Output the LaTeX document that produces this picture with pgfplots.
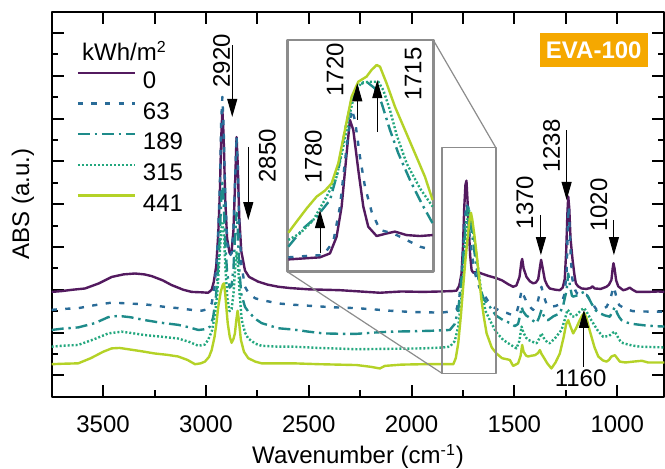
\documentclass[border=0pt]{standalone}
\usepackage{fontspec}
\setmainfont{Liberation Sans}
\usepackage{pgfplots}
\pgfplotsset{compat=1.18}
\usepackage{pgfplotstable}
\usetikzlibrary{arrows.meta}

\definecolor{cA}{HTML}{531A5F}
\definecolor{cB}{HTML}{2A6C98}
\definecolor{cC}{HTML}{1E8B8A}
\definecolor{cD}{HTML}{23A77E}
\definecolor{cE}{HTML}{B4D227}
\definecolor{evaorange}{HTML}{F5A800}
\definecolor{insgray}{HTML}{8C8C8C}

% main spectra: wavenumber, absorbance (offset, a.u.)
\pgfplotstableread{
wn a
3750 2.45
3700 2.47
3650 2.50
3588 2.53
3520 2.65
3458 2.80
3400 2.86
3345 2.88
3300 2.86
3264 2.82
3210 2.72
3167 2.61
3110 2.50
3069 2.45
3020 2.44
2989 2.43
2972 2.50
2962 2.68
2950 3.05
2940 3.80
2932 4.80
2926 6.00
2920 6.70
2914 6.10
2906 4.60
2897 3.70
2885 3.36
2875 3.40
2866 3.90
2858 5.00
2851 6.07
2845 5.40
2838 4.20
2828 3.40
2810 2.95
2790 2.80
2746 2.69
2700 2.62
2648 2.57
2591 2.54
2500 2.51
2420 2.50
2348 2.49
2250 2.46
2154 2.43
2050 2.46
1943 2.45
1860 2.46
1800 2.47
1781 2.48
1768 2.60
1757 2.88
1750 3.50
1744 4.40
1738 4.95
1733 5.05
1728 4.60
1722 4.00
1715 3.30
1708 2.96
1700 2.90
1680 2.92
1660 2.88
1630 2.83
1587 2.77
1560 2.72
1530 2.63
1506 2.57
1490 2.60
1475 2.80
1466 3.15
1462 3.22
1455 3.00
1441 2.80
1425 2.70
1409 2.65
1395 2.67
1384 2.75
1375 3.05
1370 3.20
1364 3.05
1352 2.73
1340 2.60
1328 2.53
1300 2.50
1279 2.49
1265 2.55
1255 2.75
1248 3.40
1242 4.30
1238 4.68
1233 4.40
1227 3.70
1217 3.20
1208 2.85
1201 2.65
1190 2.58
1173 2.53
1150 2.52
1130 2.54
1120 2.58
1110 2.53
1080 2.52
1052 2.57
1040 2.62
1028 2.73
1022 3.00
1018 3.12
1013 3.00
1005 2.72
995 2.58
971 2.49
955 2.51
939 2.55
925 2.50
906 2.45
850 2.45
800 2.46
770 2.45
}\dA

\pgfplotstableread{
wn a
3750 2.03
3700 2.05
3621 2.07
3540 2.14
3458 2.20
3378 2.18
3300 2.16
3264 2.14
3200 2.10
3135 2.07
3070 2.03
3021 2.01
2990 2.05
2972 2.18
2960 2.50
2948 3.10
2940 3.90
2932 5.00
2926 6.40
2920 7.01
2914 6.30
2906 4.70
2897 3.60
2885 3.30
2875 3.35
2866 3.90
2858 5.10
2851 6.10
2845 5.40
2838 4.00
2828 3.10
2810 2.57
2790 2.40
2760 2.30
2729 2.26
2648 2.18
2575 2.15
2480 2.12
2380 2.09
2267 2.07
2180 2.04
2105 2.01
2000 1.98
1900 1.97
1862 1.96
1800 2.00
1781 2.04
1768 2.30
1757 2.80
1748 3.50
1740 4.20
1733 4.52
1726 4.35
1718 3.80
1708 3.40
1697 3.00
1684 2.75
1670 2.55
1652 2.42
1630 2.25
1603 2.10
1570 2.00
1538 1.96
1506 1.90
1490 1.95
1476 2.20
1465 2.49
1458 2.40
1441 2.22
1420 2.08
1409 2.03
1390 2.15
1375 2.45
1368 2.57
1360 2.40
1345 2.18
1328 2.10
1300 2.12
1271 2.18
1256 2.40
1246 2.90
1240 4.00
1236 4.45
1231 3.90
1225 3.20
1218 2.75
1205 2.50
1196 2.42
1173 2.38
1149 2.38
1130 2.25
1100 2.03
1075 2.04
1052 2.10
1035 2.25
1022 2.50
1016 2.57
1010 2.45
1000 2.25
990 2.14
960 2.05
923 2.00
850 1.99
770 1.99
}\dB

\pgfplotstableread{
wn a
3750 1.56
3700 1.59
3621 1.62
3540 1.72
3475 1.86
3426 1.89
3370 1.86
3296 1.79
3220 1.73
3135 1.68
3080 1.62
3037 1.56
3000 1.58
2980 1.64
2965 1.85
2952 2.30
2942 2.90
2932 3.80
2926 4.60
2920 5.00
2914 4.60
2906 3.60
2897 2.90
2885 2.55
2875 2.60
2866 3.00
2858 3.80
2851 4.30
2845 3.90
2838 3.00
2828 2.40
2810 2.10
2794 1.99
2760 1.82
2729 1.72
2648 1.60
2575 1.57
2500 1.52
2429 1.48
2340 1.47
2267 1.47
2180 1.50
2105 1.52
2000 1.53
1911 1.54
1814 1.56
1790 1.70
1773 2.03
1760 2.60
1749 3.20
1738 4.00
1730 4.35
1725 4.44
1718 4.30
1710 3.95
1700 3.59
1685 3.05
1668 2.57
1650 2.30
1635 2.18
1619 2.10
1590 1.90
1555 1.79
1520 1.72
1498 1.65
1482 1.70
1472 1.90
1465 2.10
1458 2.00
1443 1.90
1433 1.87
1410 1.78
1392 1.72
1380 1.85
1368 2.03
1358 1.90
1345 1.80
1336 1.79
1310 1.88
1279 1.95
1262 2.15
1246 2.49
1238 2.88
1230 2.60
1220 2.36
1214 2.34
1200 2.36
1190 2.38
1175 2.42
1160 2.45
1150 2.40
1140 2.32
1125 2.18
1105 2.02
1084 1.95
1060 1.90
1036 1.87
1022 2.00
1011 2.10
1000 1.95
990 1.86
979 1.79
950 1.73
923 1.70
870 1.67
820 1.65
770 1.64
}\dC

\pgfplotstableread{
wn a
3750 1.17
3700 1.19
3621 1.21
3540 1.35
3475 1.48
3410 1.52
3350 1.48
3296 1.44
3210 1.40
3135 1.36
3080 1.28
3037 1.19
3005 1.22
2989 1.33
2970 1.55
2955 1.95
2945 2.40
2935 3.20
2927 3.80
2920 4.10
2913 3.80
2905 3.00
2896 2.30
2885 2.00
2875 2.05
2866 2.40
2858 3.00
2851 3.40
2844 3.10
2836 2.40
2826 1.80
2810 1.50
2794 1.36
2760 1.24
2729 1.19
2650 1.17
2575 1.17
2450 1.14
2267 1.11
2100 1.12
1943 1.13
1850 1.15
1814 1.17
1790 1.30
1773 1.64
1760 2.20
1749 2.80
1740 3.50
1730 4.10
1720 4.36
1712 4.20
1702 3.90
1692 3.59
1676 3.00
1660 2.42
1640 2.00
1619 1.79
1590 1.52
1555 1.33
1520 1.22
1490 1.13
1476 1.30
1465 1.64
1456 1.50
1443 1.38
1433 1.33
1410 1.28
1392 1.25
1380 1.35
1368 1.48
1358 1.38
1340 1.27
1328 1.25
1300 1.38
1271 1.56
1255 1.80
1242 2.03
1235 2.00
1220 1.88
1206 1.87
1190 1.95
1175 2.03
1160 2.07
1148 1.98
1130 1.82
1117 1.72
1095 1.55
1068 1.40
1040 1.42
1020 1.50
1011 1.52
1000 1.42
985 1.30
971 1.25
930 1.20
890 1.17
820 1.16
770 1.15
}\dD

\pgfplotstableread{
wn a
3750 0.76
3700 0.77
3621 0.78
3560 0.90
3500 1.05
3458 1.13
3420 1.14
3378 1.11
3310 1.06
3248 1.01
3190 0.98
3135 0.94
3090 0.86
3053 0.76
3025 0.78
3005 0.82
2985 0.93
2972 1.09
2958 1.40
2948 1.75
2940 2.10
2928 2.45
2918 2.62
2912 2.65
2906 2.40
2900 2.05
2894 1.72
2884 1.40
2875 1.26
2866 1.35
2859 1.48
2852 1.80
2846 2.01
2840 1.80
2830 1.33
2815 1.05
2794 0.90
2760 0.82
2729 0.78
2650 0.78
2575 0.78
2450 0.76
2267 0.74
2200 0.70
2154 0.66
2130 0.72
2050 0.75
1943 0.76
1850 0.76
1797 0.76
1785 0.90
1773 1.25
1760 1.90
1749 2.57
1738 3.20
1725 3.82
1716 4.20
1711 4.30
1705 4.15
1695 3.80
1684 3.35
1672 2.80
1660 2.26
1648 1.85
1635 1.48
1610 1.15
1587 1.01
1560 0.90
1522 0.86
1506 0.72
1482 0.78
1470 0.95
1462 1.21
1455 1.05
1443 0.96
1433 0.94
1415 0.96
1400 0.97
1385 1.02
1376 1.09
1368 1.00
1360 0.94
1340 0.78
1320 0.66
1300 0.80
1279 1.01
1260 1.40
1248 1.70
1238 1.79
1228 1.65
1214 1.48
1200 1.60
1182 1.79
1170 1.90
1160 1.95
1150 1.85
1138 1.62
1125 1.40
1110 1.15
1092 0.94
1070 0.85
1052 0.82
1040 0.86
1028 0.94
1011 0.97
1000 0.90
987 0.82
960 0.80
923 0.82
880 0.84
850 0.80
800 0.80
770 0.80
}\dE

% inset (carbonyl region, rescaled)
\pgfplotstableread{
wn a
1850.2 0.053
1793.4 0.062
1775.4 0.079
1763.5 0.151
1754.5 0.281
1745.5 0.511
1739.6 0.655
1733.6 0.612
1724.6 0.439
1715.6 0.281
1706.7 0.194
1691.7 0.154
1673.8 0.165
1658.8 0.173
1637.9 0.158
1614.0 0.154
1591.2 0.158
}\iA

\pgfplotstableread{
wn a
1850.2 0.062
1817.3 0.068
1787.4 0.072
1769.5 0.129
1757.5 0.281
1745.5 0.540
1736.6 0.701
1730.6 0.655
1721.6 0.496
1712.6 0.367
1700.7 0.259
1685.7 0.180
1661.8 0.165
1637.9 0.137
1614.0 0.108
1591.2 0.094
}\iB

\pgfplotstableread{
wn a
1850.2 0.108
1823.3 0.187
1799.4 0.237
1775.4 0.309
1760.5 0.439
1748.5 0.612
1736.6 0.741
1724.6 0.806
1709.7 0.820
1694.7 0.791
1682.7 0.727
1667.8 0.612
1652.8 0.511
1631.9 0.396
1611.0 0.295
1591.2 0.209
}\iC

\pgfplotstableread{
wn a
1850.2 0.137
1829.3 0.165
1805.4 0.223
1781.4 0.324
1763.5 0.410
1751.5 0.540
1739.6 0.683
1730.6 0.777
1718.6 0.816
1703.7 0.820
1688.7 0.820
1679.8 0.784
1667.8 0.698
1655.8 0.590
1637.9 0.468
1614.0 0.360
1591.2 0.281
}\iD

\pgfplotstableread{
wn a
1850.2 0.168
1835.3 0.216
1817.3 0.273
1799.4 0.324
1784.4 0.350
1772.5 0.381
1760.5 0.468
1748.5 0.612
1736.6 0.755
1724.6 0.820
1709.7 0.842
1700.7 0.871
1691.7 0.892
1685.7 0.885
1673.8 0.813
1658.8 0.712
1640.9 0.612
1622.9 0.511
1605.0 0.410
1591.2 0.309
}\iE

\tikzset{
  sA/.style={cA, line width=1.2pt, solid},
  sB/.style={cB, line width=1.2pt, dash pattern=on 2.6pt off 4.2pt},
  sC/.style={cC, line width=1.2pt, dash pattern=on 6pt off 2.4pt on 1.2pt off 2.4pt},
  sD/.style={cD, line width=1.2pt, dash pattern=on 1pt off 1pt},
  sE/.style={cE, line width=1.2pt, solid},
  pk/.style={-{Triangle[length=9pt,width=5pt]}, line width=0.5pt, black},
}

\begin{document}
\fontsize{12}{14}\selectfont
\begin{tikzpicture}
\begin{axis}[
  name=main, at={(0,0)}, anchor=south west,
  scale only axis, width=306.4pt, height=192.5pt,
  xmin=770, xmax=3750, x dir=reverse, ymin=0, ymax=9,
  xtick={1000,1500,...,3500}, minor xtick={1250,1750,2250,2750,3250},
  ytick={0.5,1.5,...,8.5}, minor ytick={1,2,...,8}, yticklabels={},
  xtick pos=left, ytick pos=both, tick align=inside,
  major tick length=6pt, minor tick length=3.3pt,
  every tick/.style={black, line width=1pt},
  axis line style={line width=1pt},
  /pgf/number format/1000 sep={}, /pgf/number format/assume math mode=true,
  xticklabel style={anchor=base, yshift=-17.75pt},
  xlabel={Wavenumber (cm\textsuperscript{-1})},
  xlabel style={at={(axis description cs:0.5,0)}, anchor=base, yshift=-33.6pt},
  ylabel={ABS (a.u.)},
  ylabel style={at={(axis description cs:-0.0468,0.5)}, anchor=center, rotate=0},
  legend style={draw=none, fill=none, at={(0.04,0.845)}, anchor=north west,
    inner sep=0pt, row sep=6.8pt, column sep=3.5pt,
    nodes={inner sep=0pt, text height=8.5pt, text depth=0pt}},
  legend cell align=left,
  legend image code/.code={\draw[#1] (0pt,0.3em) -- (28.5pt,0.3em);},
  no markers, line join=round,
]
\addplot[sA] table[x=wn, y=a] {\dA};
\addplot[sB] table[x=wn, y=a] {\dB};
\addplot[sC] table[x=wn, y=a] {\dC};
\addplot[sD] table[x=wn, y=a] {\dD};
\addplot[sE] table[x=wn, y=a] {\dE};
\legend{0,63,189,315,441}

\node[anchor=base west] at (axis cs:3643,7.85) {kWh/m\textsuperscript{2}};

\draw[insgray, line width=0.7pt] (axis cs:1852,0.547) rectangle (axis cs:1590,5.82);
\coordinate (rbl) at (axis cs:1852,0.547);
\coordinate (rtr) at (axis cs:1590,5.82);

\node[fill=evaorange, text=white, font=\bfseries, minimum width=54pt, minimum height=17pt, inner sep=0pt] at (axis cs:1114,8.11) {EVA-100};

% peak labels
\node[rotate=90] at (axis cs:2924,7.85) {2920};
\draw[pk] (axis cs:2872,8.22) -- (axis cs:2872,6.54);
\node[rotate=90] at (axis cs:2701,5.63) {2850};
\draw[pk] (axis cs:2794,5.84) -- (axis cs:2794,4.13);
\node[rotate=90] at (axis cs:1449,4.54) {1370};
\draw[pk] (axis cs:1371,4.25) -- (axis cs:1371,3.31);
\node[rotate=90] at (axis cs:1319,5.86) {1238};
\draw[pk] (axis cs:1246,6.23) -- (axis cs:1246,4.60);
\node[rotate=90] at (axis cs:1089,4.48) {1020};
\draw[pk] (axis cs:1016,4.13) -- (axis cs:1016,3.31);
\node at (axis cs:1178,0.43) {1160};
\draw[pk] (axis cs:1162,0.70) -- (axis cs:1162,2.03);
\end{axis}

% top ticks
\begin{axis}[
  at={(0,0)}, anchor=south west,
  scale only axis, width=306.4pt, height=192.5pt,
  xmin=770, xmax=3750, x dir=reverse, ymin=0, ymax=9,
  axis x line*=top, axis y line=none,
  xtick={1000,1250,...,3500}, xticklabels={},
  tick align=inside, major tick length=6pt,
  every tick/.style={black, line width=1pt},
  axis line style={line width=1pt, -},
]
\end{axis}

% inset
\begin{axis}[
  name=ins, at={(117.8pt,62.5pt)}, anchor=south west,
  scale only axis, width=73pt, height=115.85pt,
  xmin=1590, xmax=1852, x dir=reverse, ymin=0, ymax=1,
  ticks=none,
  axis line style={draw=insgray, line width=1.3pt},
  axis background/.style={fill=white},
  no markers, line join=round,
]
\addplot[sA] table[x=wn, y=a] {\iA};
\addplot[sB] table[x=wn, y=a] {\iB};
\addplot[sC] table[x=wn, y=a] {\iC};
\addplot[sD] table[x=wn, y=a] {\iD};
\addplot[sE] table[x=wn, y=a] {\iE};
\node[rotate=90] at (axis cs:1805.3,0.496) {1780};
\draw[pk] (axis cs:1793.3,0.079) -- (axis cs:1793.3,0.266);
\node[rotate=90] at (axis cs:1766.4,0.871) {1720};
\draw[pk] (axis cs:1726.4,0.655) -- (axis cs:1726.4,0.813);
\node[rotate=90] at (axis cs:1626,0.853) {1715};
\draw[pk] (axis cs:1690.5,0.604) -- (axis cs:1690.5,0.827);
\end{axis}

\draw[insgray, line width=0.6pt] (ins.south west) -- (rbl);
\draw[insgray, line width=0.6pt] (ins.north east) -- (rtr);

\pgfresetboundingbox
\useasboundingbox (-25.85pt,-35.65pt) rectangle (306.65pt,198.35pt);
\end{tikzpicture}
\end{document}
